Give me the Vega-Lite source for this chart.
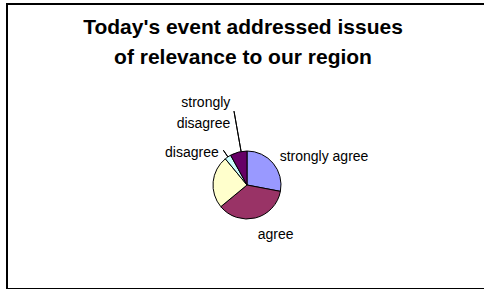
{
  "$schema": "https://vega.github.io/schema/vega-lite/v6.json",
  "autosize": "none",
  "padding": {"left": 7, "top": 4, "right": 0, "bottom": 0},
  "width": 478,
  "height": 285,
  "background": "white",
  "config": {
    "view": {"stroke": null},
    "font": "Liberation Sans"
  },
  "title": {
    "text": ["Today's event addressed issues", "of relevance to our region"],
    "font": "Liberation Sans",
    "fontSize": 21,
    "fontWeight": "bold",
    "color": "#000000",
    "anchor": "middle",
    "baseline": "alphabetic",
    "lineHeight": 30,
    "offset": -82,
    "dx": -3
  },
  "data": {
    "values": [
      {"answer": "strongly agree", "label": "strongly agree", "value": 28, "order": 1},
      {"answer": "agree", "label": "agree", "value": 36, "order": 2},
      {"answer": "neutral", "label": "", "value": 25, "order": 3},
      {"answer": "disagree", "label": "disagree", "value": 3, "order": 4},
      {"answer": "strongly disagree", "label": "strongly disagree", "value": 8, "order": 5}
    ]
  },
  "layer": [
    {
      "mark": {"type": "rect", "fill": null, "fillOpacity": 0, "stroke": "#000000", "strokeWidth": 2},
      "encoding": {}
    },
    {
      "mark": {"type": "arc", "outerRadius": 34, "stroke": "#000000", "strokeWidth": 1, "xOffset": 1, "yOffset": 38.5},
      "encoding": {
        "theta": {"field": "value", "type": "quantitative", "stack": true},
        "order": {"field": "order", "type": "quantitative"},
        "color": {
          "field": "answer",
          "type": "nominal",
          "scale": {
            "domain": ["strongly agree", "agree", "neutral", "disagree", "strongly disagree"],
            "range": ["#9999FF", "#993366", "#FFFFCC", "#CCFFFF", "#660066"]
          },
          "legend": null
        }
      }
    },
    {
      "mark": {"type": "arc", "innerRadius": 34, "outerRadius": 75, "padAngle": 1, "thetaOffset": 0.077, "theta2Offset": 0.077, "fill": null, "fillOpacity": 0, "stroke": "#000000", "strokeWidth": 1, "xOffset": 1, "yOffset": 38.5},
      "encoding": {
        "theta": {"field": "value", "type": "quantitative", "stack": true},
        "order": {"field": "order", "type": "quantitative"},
        "detail": {"field": "answer"},
        "strokeOpacity": {"condition": {"test": "datum.answer === 'strongly disagree'", "value": 1}, "value": 0}
      }
    },
    {
      "mark": {"type": "arc", "innerRadius": 34, "outerRadius": 42, "padAngle": 1, "fill": null, "fillOpacity": 0, "stroke": "#000000", "strokeWidth": 1, "xOffset": 1, "yOffset": 38.5},
      "encoding": {
        "theta": {"field": "value", "type": "quantitative", "stack": true},
        "order": {"field": "order", "type": "quantitative"},
        "detail": {"field": "answer"},
        "strokeOpacity": {"condition": {"test": "datum.answer === 'disagree'", "value": 1}, "value": 0}
      }
    },
    {
      "mark": {"type": "text", "radius": 45, "align": "left", "baseline": "middle", "fontSize": 14, "color": "#000000", "dx": -2, "dy": 1, "xOffset": 1, "yOffset": 38.5},
      "encoding": {
        "theta": {"field": "value", "type": "quantitative", "stack": true},
        "order": {"field": "order", "type": "quantitative"},
        "detail": {"field": "answer"},
        "text": {"condition": {"test": "datum.answer === 'strongly agree'", "field": "label"}, "value": ""}
      }
    },
    {
      "mark": {"type": "text", "radius": 55, "align": "center", "baseline": "middle", "fontSize": 14, "color": "#000000", "dx": 15, "dy": -3, "xOffset": 1, "yOffset": 38.5},
      "encoding": {
        "theta": {"field": "value", "type": "quantitative", "stack": true},
        "order": {"field": "order", "type": "quantitative"},
        "detail": {"field": "answer"},
        "text": {"condition": {"test": "datum.answer === 'agree'", "field": "label"}, "value": ""}
      }
    },
    {
      "mark": {"type": "text", "radius": 45, "align": "right", "baseline": "middle", "fontSize": 14, "color": "#000000", "dx": -3, "dy": 5, "xOffset": 1, "yOffset": 38.5},
      "encoding": {
        "theta": {"field": "value", "type": "quantitative", "stack": true},
        "order": {"field": "order", "type": "quantitative"},
        "detail": {"field": "answer"},
        "text": {"condition": {"test": "datum.answer === 'disagree'", "field": "label"}, "value": ""}
      }
    },
    {
      "mark": {"type": "text", "radius": 75, "align": "right", "baseline": "middle", "fontSize": 14, "lineHeight": 21, "lineBreak": " ", "color": "#000000", "dx": 2, "dy": -9, "xOffset": 1, "yOffset": 38.5},
      "encoding": {
        "theta": {"field": "value", "type": "quantitative", "stack": true},
        "order": {"field": "order", "type": "quantitative"},
        "detail": {"field": "answer"},
        "text": {"condition": {"test": "datum.answer === 'strongly disagree'", "field": "label"}, "value": ""}
      }
    }
  ]
}
